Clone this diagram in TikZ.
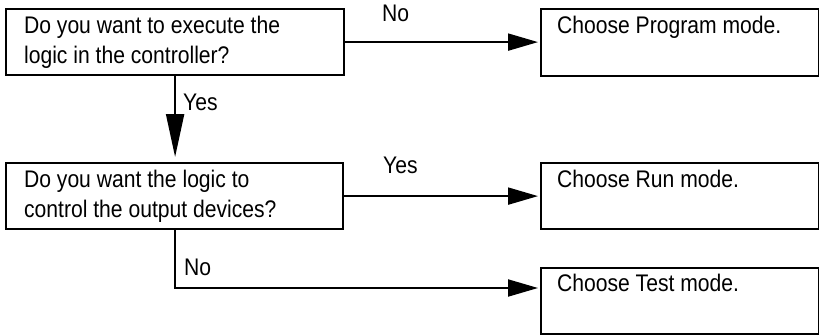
\documentclass[tikz,border=0pt]{standalone}
\usepackage{fontspec}
\setmainfont{Liberation Sans}[FakeStretch=0.88]
\usetikzlibrary{arrows.meta}

% box contents: width, height, left inset, first baseline, text
\newcommand{\boxtext}[5]{%
  \parbox[b][#2][t]{#1}{\raggedright\leftskip=#3\relax\rule{0pt}{#4}#5}}

\begin{document}
\begin{tikzpicture}[x=1pt, y=-1pt,
  txt/.style={font=\fontsize{24}{30.5}\selectfont},
  box/.style={draw, line width=2.2pt, inner sep=0pt, anchor=north west, txt},
  conn/.style={line width=2pt, -{Triangle[length=30pt, width=17pt]}, shorten >=2pt},
  connv/.style={line width=2pt, -{Triangle[length=43pt, width=18pt]}, shorten >=5pt},
  lbl/.style={anchor=base west, inner sep=0pt, txt}]
  \useasboundingbox (0,0) rectangle (819,335);

  % questions
  \node[box] (q1) at (5,8)
    {\boxtext{338pt}{66pt}{18pt}{24.3pt}{Do you want to execute the\\logic in the controller?}};
  \node[box] (q2) at (5,162)
    {\boxtext{337pt}{66pt}{18pt}{24pt}{Do you want the logic to\\control the output devices?}};

  % outcomes
  \node[box] (prog) at (540,8)
    {\boxtext{278pt}{67pt}{16pt}{24.7pt}{Choose Program mode.}};
  \node[box] (run) at (540,162)
    {\boxtext{278pt}{66pt}{16pt}{24.7pt}{Choose Run mode.}};
  \node[box] (test) at (540,267)
    {\boxtext{278pt}{66pt}{16pt}{23pt}{Choose Test mode.}};

  % connectors
  \draw[conn] (q1.east) -- (q1.east -| prog.west);
  \draw[connv] (q1.south) -- (q1.south |- q2.north);
  \draw[conn] (q2.east) -- (q2.east -| run.west);
  \coordinate (testin) at ([yshift=-21pt]test.north west);
  \draw[conn] (q2.south) |- (testin);

  % branch labels
  \node[lbl] (no1) at (382,21.7) {No};
  \node[lbl] (yes1) at (183,110) {Yes};
  \node[lbl] (yes2) at (383,173) {Yes};
  \node[lbl] (no2) at (184,275) {No};
\end{tikzpicture}
\end{document}
